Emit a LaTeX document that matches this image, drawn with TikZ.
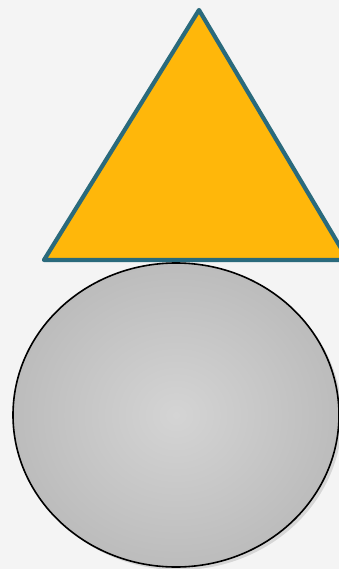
\documentclass[tikz,border=0pt]{standalone}
\usepackage{xcolor}
\definecolor{paper}{HTML}{F4F4F4}
\definecolor{amber}{HTML}{FFB70A}
\definecolor{petrol}{HTML}{2A6A7C}
\definecolor{ballin}{HTML}{D4D4D4}
\definecolor{ballout}{HTML}{BCBCBC}
\usetikzlibrary{calc}
\tikzset{
  cone/.style ={fill=amber,draw=petrol,line width=4.2pt,line join=round},
  ball/.style ={inner color=ballin,outer color=ballout,draw=black,line width=1.6pt},
  ballshadow/.style={fill=black,opacity=0.12},
}

\begin{document}
\begin{tikzpicture}[x=1pt,y=-1pt]
% frame
\fill[paper] (0,0) rectangle (339,569);
\useasboundingbox (0,0) rectangle (339,569);
\clip (0,0) rectangle (339,569);
% triangle on top
\coordinate (apex) at (199,10);
\coordinate (left) at (44,260);
\coordinate (right) at (348,260);
\draw[cone] (apex) -- (right) -- (left) -- cycle;
% ball below
\coordinate (mid) at (176,415);
\fill[ballshadow] ($(mid)+(3,3)$) ellipse [x radius=163,y radius=152];
\shade[ball] (mid) ellipse [x radius=163,y radius=152];
\end{tikzpicture}
\end{document}
